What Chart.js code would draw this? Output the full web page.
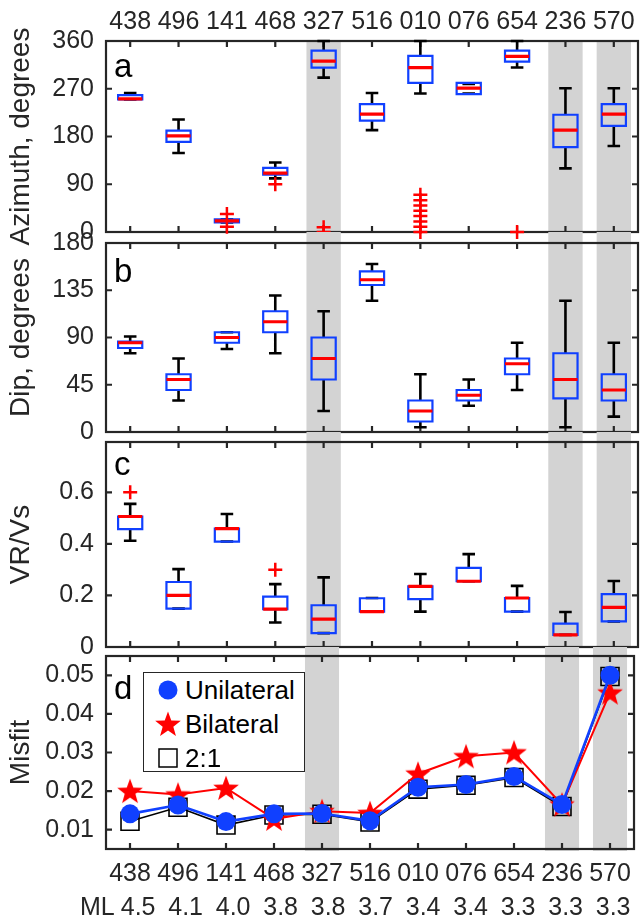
<!DOCTYPE html>
<html><head><meta charset="utf-8">
<script src="https://cdn.jsdelivr.net/npm/chart.js@4"></script>
<style>
html,body{margin:0;padding:0;background:#fff;}
#wrap{position:relative;width:641px;height:917px;overflow:hidden;font-family:'Liberation Sans',Arial,sans-serif;}
canvas{position:absolute;left:0;top:0;}
.let{position:absolute;font-size:33px;line-height:33px;color:#000;z-index:5;}
#legend{position:absolute;left:143px;top:672px;width:162px;height:100px;box-sizing:border-box;border:1.5px solid #262626;background:#fff;z-index:6;}
.row{position:absolute;left:0;height:34px;width:100%;}
.row svg{position:absolute;left:10px;top:3px;}
.row span{position:absolute;left:41px;top:4px;font-size:26px;line-height:26px;color:#000;}
#ml{position:absolute;left:80px;top:894px;font-size:25px;line-height:25px;color:#262626;white-space:pre;z-index:5;}
</style></head>
<body><div id="wrap">
<canvas id="ca" width="641" height="917"></canvas>
<canvas id="cb" width="641" height="917"></canvas>
<canvas id="cc" width="641" height="917"></canvas>
<canvas id="cd" width="641" height="917"></canvas>
<div class="let" style="left:114px;top:49px">a</div>
<div class="let" style="left:114px;top:254px">b</div>
<div class="let" style="left:114px;top:447px">c</div>
<div class="let" style="left:114px;top:671px">d</div>
<div id="legend">
 <div class="row" style="top:0px"><svg width="28" height="28"><circle cx="14" cy="14" r="9.5" fill="#1040ff"/></svg><span>Unilateral</span></div>
 <div class="row" style="top:34px"><svg width="28" height="28"><polygon id="starpoly" fill="#ff0000"/></svg><span>Bilateral</span></div>
 <div class="row" style="top:68px"><svg width="28" height="28"><rect x="5" y="5" width="18" height="18" fill="none" stroke="#000" stroke-width="1.5"/></svg><span>2:1</span></div>
</div>
<div id="ml"></div>
</div>
<script>
// ---------------- DATA ----------------
const eventIds = ['438','496','141','468','327','516','010','076','654','236','570'];
const mlValues = ['4.5','4.1','4.0','3.8','3.8','3.7','3.4','3.4','3.3','3.3','3.3'];
const shadedEvents = ['327','236','570'];

const azTicks = [0, 90, 180, 270, 360];
const azLo  = [250, 149, 18, 101, 291, 192, 261, 261, 310, 120, 162];
const azQ1  = [250, 170, 18, 108, 310, 210, 281, 260, 321, 160, 200];
const azMed = [251, 181, 21, 111, 322, 222, 310, 271, 331, 192, 222];
const azQ3  = [258, 191, 24, 121, 342, 241, 332, 281, 342, 221, 241];
const azHi  = [262, 212, 24, 131, 360, 262, 360, 279, 360, 271, 271];
const azOut = [[], [], [34, 10], [90], [9, 0], [], [0, 10, 20, 30, 40, 50, 60, 70], [], [0], [], []];

const dipTicks = [0, 45, 90, 135, 180];
const dipLo  = [75, 30, 79, 75, 20, 125, 4.5, 25, 40, 4.5, 14.6];
const dipQ1  = [80, 40, 85, 95, 50, 140, 10, 30, 55, 32, 30];
const dipMed = [85, 50, 90, 105, 70, 145, 20, 35, 65, 50, 40];
const dipQ3  = [86, 55, 95, 115, 90, 153, 30, 40, 70, 75, 55];
const dipHi  = [91, 70, 95, 130, 115, 160, 55, 50, 85, 125, 85];
const dipOut = [[], [], [], [], [], [], [], [], [], [], []];

const vrTicks = [0, 0.2, 0.4, 0.6];
const vrLo  = [0.412, 0.149, 0.409, 0.095, 0.054, 0.137, 0.137, 0.255, 0.137, 0.047, 0.099];
const vrQ1  = [0.457, 0.149, 0.409, 0.147, 0.054, 0.137, 0.186, 0.255, 0.137, 0.047, 0.099];
const vrMed = [0.506, 0.200, 0.459, 0.147, 0.108, 0.137, 0.235, 0.255, 0.190, 0.047, 0.154];
const vrQ3  = [0.506, 0.252, 0.459, 0.195, 0.162, 0.189, 0.235, 0.307, 0.190, 0.091, 0.205];
const vrHi  = [0.555, 0.302, 0.516, 0.244, 0.270, 0.190, 0.283, 0.360, 0.237, 0.136, 0.256];
const vrOut = [[0.6], [], [], [0.3], [], [], [], [], [], [], []];

const misTicks = [0.01, 0.02, 0.03, 0.04, 0.05];
const misUni = [0.0141, 0.0164, 0.0121, 0.0141, 0.0142, 0.0123, 0.0210, 0.0217, 0.0238, 0.0165, 0.0500];
const misBi  = [0.0200, 0.0191, 0.0208, 0.0128, 0.0148, 0.0143, 0.0245, 0.0290, 0.0300, 0.0165, 0.0455];
const misTwo = [0.0122, 0.0158, 0.0112, 0.0138, 0.0140, 0.0120, 0.0205, 0.0215, 0.0235, 0.0160, 0.0497];

// ---------------- STYLE ----------------
const TXT = '#262626';
const BLUE = '#1040ff';
const RED = '#ff0000';
const BAND = '#d3d3d3';
const FONT = "'Liberation Sans', Arial, sans-serif";
Chart.defaults.font.family = FONT;
Chart.defaults.color = TXT;
const N = eventIds.length;
const cats = eventIds.map((_, i) => i + 1);
const shadedPos = shadedEvents.map(e => eventIds.indexOf(e) + 1);
const BW = 0.25, CAP = 0.13, BAND_HALF = 0.355, TL = 6;

document.getElementById('ml').innerHTML = 'ML <span style="word-spacing:5.8px">' + mlValues.join(' ') + '</span>';

// star marker
function starPoints(cx, cy, R, r) {
  const pts = [];
  for (let k = 0; k < 10; k++) {
    const ang = -Math.PI / 2 + k * Math.PI / 5;
    const rad = k % 2 === 0 ? R : r;
    pts.push([cx + rad * Math.cos(ang), cy + rad * Math.sin(ang)]);
  }
  return pts;
}
const starCanvas = document.createElement('canvas');
starCanvas.width = 28; starCanvas.height = 28;
(function () {
  const c = starCanvas.getContext('2d');
  c.fillStyle = RED; c.beginPath();
  starPoints(14, 15, 13.5, 5.6).forEach((p, k) => k ? c.lineTo(p[0], p[1]) : c.moveTo(p[0], p[1]));
  c.closePath(); c.fill();
})();
document.getElementById('starpoly').setAttribute('points', starPoints(14, 15, 13.5, 5.6).map(p => p.join(',')).join(' '));

function panelPlugin(extTop, extBottom, yTicks) {
  return {
    id: 'panelFrame',
    beforeDatasetsDraw(chart) {
      const { ctx, chartArea: a } = chart;
      const x = chart.scales.x, y = chart.scales.y;
      ctx.save();
      ctx.fillStyle = BAND;
      shadedPos.forEach(c => {
        const l = x.getPixelForValue(c - BAND_HALF), r = x.getPixelForValue(c + BAND_HALF);
        ctx.fillRect(l, a.top - extTop, r - l, a.bottom - a.top + extTop + extBottom);
      });
      ctx.strokeStyle = TXT; ctx.lineWidth = 2.2;
      ctx.strokeRect(a.left, a.top, a.right - a.left, a.bottom - a.top);
      ctx.beginPath();
      yTicks.forEach(v => {
        const py = y.getPixelForValue(v);
        ctx.moveTo(a.left, py); ctx.lineTo(a.left + TL, py);
        ctx.moveTo(a.right, py); ctx.lineTo(a.right - TL, py);
      });
      cats.forEach(c => {
        const px = x.getPixelForValue(c);
        ctx.moveTo(px, a.top); ctx.lineTo(px, a.top + TL);
        ctx.moveTo(px, a.bottom); ctx.lineTo(px, a.bottom - TL);
      });
      ctx.stroke();
      ctx.restore();
    }
  };
}

function boxDatasets(lo, q1, med, q3, hi, out) {
  const wh = [], bx = [], md = [], ol = [];
  for (let i = 0; i < N; i++) {
    const c = i + 1, gap = { x: c, y: null };
    wh.push({ x: c, y: lo[i] }, { x: c, y: q1[i] }, gap, { x: c, y: q3[i] }, { x: c, y: hi[i] }, gap,
      { x: c - CAP, y: lo[i] }, { x: c + CAP, y: lo[i] }, gap, { x: c - CAP, y: hi[i] }, { x: c + CAP, y: hi[i] }, gap);
    bx.push({ x: c - BW, y: q1[i] }, { x: c + BW, y: q1[i] }, { x: c + BW, y: q3[i] }, { x: c - BW, y: q3[i] }, { x: c - BW, y: q1[i] }, gap);
    md.push({ x: c - BW, y: med[i] }, { x: c + BW, y: med[i] }, gap);
    out[i].forEach(v => ol.push({ x: c, y: v }));
  }
  const line = { showLine: true, pointRadius: 0, tension: 0, clip: false, spanGaps: false };
  return [
    { data: ol, showLine: false, pointStyle: 'cross', pointRadius: 7, pointBorderColor: RED, pointBorderWidth: 2.5, clip: false },
    Object.assign({ data: md, borderColor: RED, borderWidth: 3.2, borderCapStyle: 'butt' }, line),
    Object.assign({ data: bx, borderColor: BLUE, borderWidth: 2.2, borderCapStyle: 'square', borderJoinStyle: 'miter' }, line),
    Object.assign({ data: wh, borderColor: '#000', borderWidth: 2.6, borderCapStyle: 'butt' }, line)
  ];
}

function yAxis(min, max, ticks, title) {
  return {
    min: min, max: max,
    afterFit: s => { s.width = 106; },
    afterBuildTicks: s => { s.ticks = ticks.map(v => ({ value: v })); },
    ticks: { autoSkip: false, padding: 12, color: TXT, font: { size: 25 }, callback: v => String(v) },
    grid: { display: false, drawTicks: false },
    border: { display: false },
    title: { display: true, text: title, color: TXT, font: { size: 28 }, padding: { top: 4, bottom: 0 } }
  };
}

function xAxis(pos, show, h, pad) {
  return {
    type: 'linear', min: 0.5, max: 11.5, position: pos, display: show,
    afterBuildTicks: s => { s.ticks = cats.map(c => ({ value: c })); },
    afterFit: s => { s.height = h; },
    ticks: { autoSkip: false, maxRotation: 0, minRotation: 0, padding: pad, color: TXT, font: { size: 25 },
      callback: v => eventIds[Math.round(v) - 1] },
    grid: { display: false, drawTicks: false },
    border: { display: false }
  };
}

function makeChart(id, datasets, xa, ya, padTop, padBottom, plugin) {
  return new Chart(document.getElementById(id), {
    type: 'scatter',
    data: { datasets: datasets },
    options: {
      responsive: false, animation: false, devicePixelRatio: 1,
      layout: { autoPadding: false, padding: { top: padTop, bottom: padBottom, left: 0, right: 3 } },
      plugins: { legend: { display: false }, tooltip: { enabled: false } },
      events: [],
      scales: { x: xa, y: ya }
    },
    plugins: [plugin]
  });
}

// Panel a
makeChart('ca', boxDatasets(azLo, azQ1, azMed, azQ3, azHi, azOut),
  xAxis('top', true, 41, 4), yAxis(0, 360, azTicks, 'Azimuth, degrees'), 0, 917 - 232, panelPlugin(0, 0, azTicks));
// Panel b
makeChart('cb', boxDatasets(dipLo, dipQ1, dipMed, dipQ3, dipHi, dipOut),
  xAxis('bottom', false, 0, 0), yAxis(0, 180, dipTicks, 'Dip, degrees'), 243, 917 - 432, panelPlugin(11, 0, dipTicks));
// Panel c
makeChart('cc', boxDatasets(vrLo, vrQ1, vrMed, vrQ3, vrHi, vrOut),
  xAxis('bottom', false, 0, 0), yAxis(0, 0.795, vrTicks, 'VR/Vs'), 442, 917 - 647, panelPlugin(10, 0, vrTicks));
// Panel d
const pts = arr => arr.map((v, i) => ({ x: i + 1, y: v }));
makeChart('cd', [
  { data: pts(misUni), showLine: true, tension: 0, clip: false, borderColor: BLUE, borderWidth: 2.6,
    pointStyle: 'circle', pointRadius: 9.5, pointBackgroundColor: BLUE, pointBorderColor: BLUE, pointBorderWidth: 0 },
  { data: pts(misBi), showLine: true, tension: 0, clip: false, borderColor: RED, borderWidth: 2,
    pointStyle: starCanvas, pointRadius: 13, pointBackgroundColor: RED, pointBorderColor: RED },
  { data: pts(misTwo), showLine: true, tension: 0, clip: false, borderColor: '#000', borderWidth: 1.6,
    pointStyle: 'rect', pointRadius: 12.7, pointBackgroundColor: 'rgba(0,0,0,0)', pointBorderColor: '#000', pointBorderWidth: 1.6 }
], xAxis('bottom', true, 40, 10), yAxis(0.005, 0.055, misTicks, 'Misfit'), 656, 917 - 849 - 40, panelPlugin(9, 2, misTicks));
</script>
</body></html>
